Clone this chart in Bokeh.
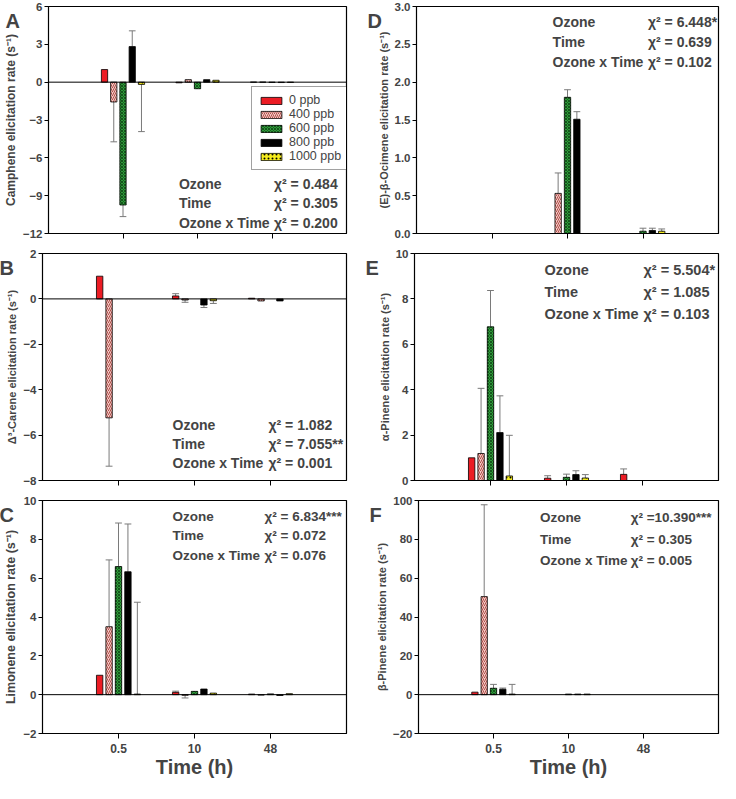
import math
from bokeh.plotting import figure
from bokeh.models import (Range1d, FixedTicker, Label, Legend, LegendItem,
                          ColumnDataSource, Span)
from bokeh.layouts import column, row
from bokeh.embed import file_html
from bokeh.resources import INLINE

nan = float("nan")

# ---------------- data ----------------
times = ["0.5", "10", "48"]
ozone_levels = ["0 ppb", "400 ppb", "600 ppb", "800 ppb", "1000 ppb"]
stat_terms = ["Ozone", "Time", "Ozone x Time"]

# rows: 0.5 h, 10 h, 48 h ; columns: 0, 400, 600, 800, 1000 ppb
camphene_mean = [[1.0, -1.57, -9.74, 2.82, -0.18],
                 [-0.05, 0.20, -0.52, 0.20, 0.15],
                 [0.0, 0.0, -0.02, -0.03, -0.02]]
camphene_err = [[0, 3.16, 0.92, 1.25, 3.74],
                [0, 0, 0, 0, 0],
                [0, 0, 0, 0, 0]]
camphene_chi2 = ["= 0.484", "= 0.305", "= 0.200"]

carene_mean = [[1.0, -5.24, nan, nan, nan],
               [0.13, -0.05, nan, -0.27, -0.08],
               [0.03, -0.09, nan, -0.09, nan]]
carene_err = [[0, 2.13, 0, 0, 0],
              [0.10, 0.10, 0, 0.11, 0.12],
              [0, 0, 0, 0, 0]]
carene_chi2 = ["= 1.082", "= 7.055**", "=  0.001"]

limonene_mean = [[1.0, 3.50, 6.60, 6.33, 0.03],
                 [0.12, -0.03, 0.17, 0.29, 0.08],
                 [0.03, -0.02, 0.04, -0.04, 0.05]]
limonene_err = [[0, 3.44, 2.24, 2.46, 4.73],
                [0.06, 0.14, 0, 0, 0],
                [0, 0, 0, 0, 0]]
limonene_chi2 = ["= 6.834***", "= 0.072", "= 0.076"]

ocimene_mean = [[nan, nan, nan, nan, nan],
                [nan, 0.53, 1.80, 1.51, nan],
                [nan, nan, 0.03, 0.04, 0.03]]
ocimene_err = [[0, 0, 0, 0, 0],
               [0, 0.27, 0.10, 0.10, 0],
               [0, 0, 0.04, 0.03, 0.03]]
ocimene_chi2 = ["= 6.448*", "= 0.639", "=  0.102"]

apinene_mean = [[1.0, 1.19, 6.77, 2.11, 0.20],
                [0.10, nan, 0.14, 0.26, 0.11],
                [0.27, nan, nan, nan, nan]]
apinene_err = [[0, 2.87, 1.60, 1.62, 1.79],
               [0.11, 0, 0.14, 0.17, 0.15],
               [0.24, 0, 0, 0, 0]]
apinene_chi2 = ["= 5.504*", "= 1.085", "=  0.103"]

bpinene_mean = [[1.3, 50.5, 3.3, 2.8, 0.3],
                [nan, nan, 0.3, 0.3, 0.3],
                [nan, nan, nan, nan, nan]]
bpinene_err = [[0, 47.3, 2.0, 0.6, 5.0],
               [0, 0, 0, 0, 0],
               [0, 0, 0, 0, 0]]
bpinene_chi2 = ["=10.390***", "=  0.305", "=   0.005"]

# ---------------- styles ----------------
BAR_STYLES = [
    dict(fill_color="#ec1c24"),
    dict(fill_color="#f5c9c6", hatch_pattern="/", hatch_color="#b0504a",
         hatch_scale=4, hatch_weight=1),
    dict(fill_color="#2f9a3a", hatch_pattern="x", hatch_color="#15561c",
         hatch_scale=3, hatch_weight=1),
    dict(fill_color="#000000"),
    dict(fill_color="#f5ec1c", hatch_pattern=".", hatch_color="#000000",
         hatch_scale=4, hatch_weight=1.5),
]
FONT = "Liberation Sans"
OFFSET = 0.124
BAR_W = 0.084
CAP = 0.045
FRAME_W = 304.0


def panel(letter, mean, err, yr, yticks, ylabel, ylabel_size, chi2,
          stat_px, stat_y, left_col, bottom_row, legend=False, yfmt=None,
          stat_size="14px"):
    W = 360
    H = 289 if bottom_row else 247
    p = figure(width=W, height=H, x_range=Range1d(0, 4), y_range=Range1d(*yr),
               output_backend="svg", toolbar_location=None, tools="", title=None,
               min_border_left=42 if left_col else 54,
               min_border_right=14 if left_col else 2,
               min_border_top=6, min_border_bottom=50 if bottom_row else 14)
    p.xgrid.visible = False
    p.ygrid.visible = False
    p.outline_line_color = "black"
    p.outline_line_width = 1.2
    p.background_fill_color = "white"
    p.border_fill_color = "white"

    p.xaxis.ticker = FixedTicker(ticks=[1, 2, 3])
    p.xaxis.major_tick_out = 5
    p.xaxis.major_tick_in = 0
    p.xaxis.minor_tick_line_color = None
    p.xaxis.axis_line_color = "black"
    p.xaxis.major_tick_line_color = "black"
    p.xaxis.major_label_text_font = FONT
    p.xaxis.major_label_text_font_style = "bold"
    if bottom_row:
        p.xaxis.major_label_overrides = {1: times[0], 2: times[1], 3: times[2]}
        p.xaxis.major_label_text_font_size = "12px"
        p.xaxis.major_label_standoff = 5
        p.xaxis.axis_label = "Time (h)"
        p.xaxis.axis_label_text_font = FONT
        p.xaxis.axis_label_text_font_style = "bold"
        p.xaxis.axis_label_text_font_size = "20px"
        p.xaxis.axis_label_standoff = 0
    else:
        p.xaxis.major_label_overrides = {1: "", 2: "", 3: ""}
        p.xaxis.major_label_text_font_size = "1px"
        p.xaxis.major_label_standoff = 0

    p.yaxis.ticker = FixedTicker(ticks=yticks)
    if yfmt:
        p.yaxis.major_label_overrides = {t: yfmt.format(t) for t in yticks}
    p.yaxis.major_tick_out = 4
    p.yaxis.major_tick_in = 0
    p.yaxis.minor_tick_line_color = None
    p.yaxis.axis_line_color = "black"
    p.yaxis.major_label_text_font = FONT
    p.yaxis.major_label_text_font_style = "bold"
    p.yaxis.major_label_text_font_size = "11.5px"
    p.yaxis.major_label_standoff = 2
    p.yaxis.axis_label = ylabel
    p.yaxis.axis_label_text_font = FONT
    p.yaxis.axis_label_text_font_style = "bold"
    p.yaxis.axis_label_text_font_size = ylabel_size
    p.yaxis.axis_label_standoff = 2

    p.add_layout(Span(location=0, dimension="width", line_color="black",
                      line_width=1))

    # error bars (one-sided, in the direction of the bar)
    sx0, sy0, sx1, sy1 = [], [], [], []
    for t in range(3):
        for i in range(5):
            v = mean[t][i]
            e = err[t][i]
            if v is None or math.isnan(v) or e == 0:
                continue
            x = t + 1 + (i - 2) * OFFSET
            end = v - e if v < 0 else v + e
            sx0 += [x, x - CAP]
            sx1 += [x, x + CAP]
            sy0 += [v, end]
            sy1 += [end, end]
    p.segment(x0=sx0, y0=sy0, x1=sx1, y1=sy1, line_color="#7a7a7a",
              line_width=1)

    renderers = []
    for i in range(5):
        xs, tops = [], []
        for t in range(3):
            v = mean[t][i]
            if v is None or math.isnan(v):
                continue
            xs.append(t + 1 + (i - 2) * OFFSET)
            tops.append(v)
        src = ColumnDataSource(dict(x=xs, top=tops))
        r = p.vbar(x="x", top="top", bottom=0, width=BAR_W, source=src,
                   line_color="black", line_width=0.8, **BAR_STYLES[i])
        renderers.append(r)

    if legend:
        lg = Legend(items=[LegendItem(label=ozone_levels[i], renderers=[renderers[i]])
                           for i in range(5)],
                    location=(203, 63), orientation="vertical",
                    label_text_font=FONT, label_text_font_size="12.5px",
                    glyph_width=26, glyph_height=9, label_height=14,
                    label_standoff=5, spacing=0, padding=6, margin=0,
                    border_line_color="#444444", border_line_width=1,
                    background_fill_color="white", background_fill_alpha=1)
        p.add_layout(lg)

    sx = [stat_px[0] / FRAME_W * 4, stat_px[1] / FRAME_W * 4]
    for k in range(3):
        p.add_layout(Label(x=sx[0], y=stat_y[k], text=stat_terms[k],
                           text_font=FONT, text_font_style="bold",
                           text_font_size=stat_size, text_baseline="middle",
                           text_align="left"))
        p.add_layout(Label(x=sx[1], y=stat_y[k], text="\u03c7\u00b2 " + chi2[k],
                           text_font=FONT, text_font_style="bold",
                           text_font_size=stat_size, text_baseline="middle",
                           text_align="left"))

    p.add_layout(Label(x=0, y=yr[1], x_offset=-43 if left_col else -49,
                       y_offset=-3, text=letter, text_font=FONT,
                       text_font_style="bold", text_font_size="20px",
                       text_baseline="top", text_align="left"),
                 "right" if left_col else "left")
    return p


pA = panel("A", camphene_mean, camphene_err, (-12, 6), [-12, -9, -6, -3, 0, 3, 6],
           "Camphene elicitation rate (s\u207b\u00b9)", "12px", camphene_chi2,
           (133, 230), (-8.07, -9.56, -11.14), True, False, legend=True)
pB = panel("B", carene_mean, carene_err, (-8, 2), [-8, -6, -4, -2, 0, 2],
           "\u0394\u00b3-Carene elicitation rate (s\u207b\u00b9)", "11px", carene_chi2,
           (130, 226), (-5.57, -6.38, -7.23), True, False)
pC = panel("C", limonene_mean, limonene_err, (-2, 10), [-2, 0, 2, 4, 6, 8, 10],
           "Limonene elicitation rate (s\u207b\u00b9)", "12.5px", limonene_chi2,
           (130, 222), (9.19, 8.18, 7.16), True, True, stat_size="13.5px")
pD = panel("D", ocimene_mean, ocimene_err, (0, 3), [0, 0.5, 1, 1.5, 2, 2.5, 3],
           "(E)-\u03b2-Ocimene elicitation rate (s\u207b\u00b9)", "11px", ocimene_chi2,
           (137, 233), (2.79, 2.53, 2.26), False, False, yfmt="{:.1f}")
pE = panel("E", apinene_mean, apinene_err, (0, 10), [0, 2, 4, 6, 8, 10],
           "\u03b1-Pinene elicitation rate (s\u207b\u00b9)", "11px", apinene_chi2,
           (130, 229), (9.28, 8.30, 7.32), False, False, stat_size="14.5px")
pF = panel("F", bpinene_mean, bpinene_err, (-20, 100), [-20, 0, 20, 40, 60, 80, 100],
           "\u03b2-Pinene elicitation rate (s\u207b\u00b9)", "11px", bpinene_chi2,
           (123, 215), (91.5, 79.9, 68.9), False, True, stat_size="13.5px")

layout = column(row(pA, pD), row(pB, pE), row(pC, pF))
open("out.html", "w").write(file_html(layout, INLINE))
